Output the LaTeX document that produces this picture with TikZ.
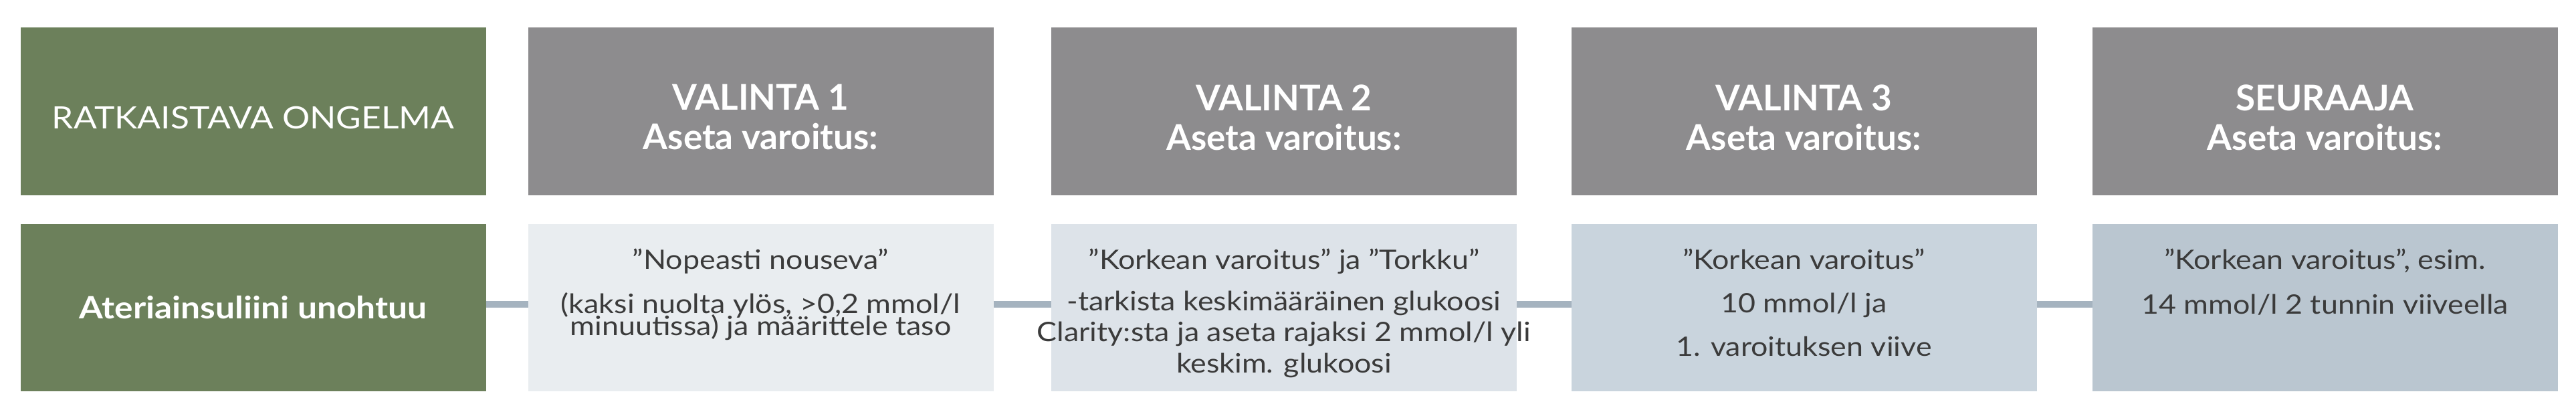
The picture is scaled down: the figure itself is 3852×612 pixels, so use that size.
\documentclass[tikz,border=0pt]{standalone}
\usepackage{fontspec}
\setmainfont{Lato}
\newfontfamily\widefont[FakeStretch=1.12]{Lato}
\usetikzlibrary{positioning}

\definecolor{problemGreen}{HTML}{6C805B}
\definecolor{headGray}{HTML}{8D8C8E}
\definecolor{optOne}{HTML}{E9EDF0}
\definecolor{optTwo}{HTML}{DDE3E9}
\definecolor{optThree}{HTML}{C9D4DD}
\definecolor{followFill}{HTML}{BAC6D0}
\definecolor{linkBlue}{HTML}{A5B3BF}
\definecolor{bodyGray}{HTML}{3B3B3B}

\lineskiplimit=-\maxdimen

\begin{document}
\begin{tikzpicture}[x=0.25pt, y=0.25pt,
	box/.style={rectangle, minimum width=174pt, minimum height=62.5pt, inner sep=0pt, outer sep=0pt},
	problemtext/.style={text=white, font={\widefont\fontsize{11.5}{13}\selectfont}, inner sep=0pt, anchor=base},
	headtext/.style={text=white, font={\bfseries\fontsize{13.25}{14.75}\selectfont}, align=center, inner sep=0pt},
	bodytext/.style={text=bodyGray, font={\widefont\fontsize{10}{#1}\selectfont}, align=center, inner sep=0pt},
	link/.style={draw=linkBlue, line width=2.5pt}]

		\useasboundingbox (0,0) rectangle (3852,612);

		% header row
		\node[box, fill=problemGreen](problemHead) at (378.5,445.5){};
		\node[box, fill=headGray](alt1Head) at (1137.5,445.5){};
		\node[box, fill=headGray](alt2Head) at (1920,445.5){};
		\node[box, fill=headGray](alt3Head) at (2697.5,445.5){};
		\node[box, fill=headGray](followHead) at (3476.5,445.5){};

		% content row
		\node[box, fill=problemGreen](problemBox) at (378.5,152){};
		\node[box, fill=optOne](alt1Box) at (1137.5,152){};
		\node[box, fill=optTwo](alt2Box) at (1920,152){};
		\node[box, fill=optThree](alt3Box) at (2697.5,152){};
		\node[box, fill=followFill](followBox) at (3476.5,152){};

		% header texts
		\node[problemtext](problemHeadText) at ([yshift=-37.75pt]problemHead.north){RATKAISTAVA ONGELMA};
		\node[headtext, below=21pt of alt1Head.north](alt1HeadText){VALINTA 1\\Aseta varoitus:};
		\node[headtext, below=21pt of alt2Head.north](alt2HeadText){VALINTA 2\\Aseta varoitus:};
		\node[headtext, below=21pt of alt3Head.north](alt3HeadText){VALINTA 3\\Aseta varoitus:};
		\node[headtext, below=21pt of followHead.north](followHeadText){SEURAAJA\\Aseta varoitus:};

		% content texts
		\node[problemtext, font={\widefont\bfseries\fontsize{11.5}{13}\selectfont}](problemText) at ([yshift=-35.25pt]problemBox.north){Ateriainsuliini unohtuu};
		\node[bodytext=8.4pt, below=9pt of alt1Box.north](alt1Text){”Nopeasti nouseva”\\[8.1pt](kaksi nuolta ylös, >0,2 mmol/l\\minuutissa) ja määrittele taso};
		\node[bodytext=11.6pt, below=9pt of alt2Box.north](alt2Text){”Korkean varoitus” ja ”Torkku”\\[3.9pt]-tarkista keskimääräinen glukoosi\\Clarity:sta ja aseta rajaksi 2 mmol/l yli\\keskim. glukoosi};
		\node[bodytext=16.25pt, below=9pt of alt3Box.north](alt3Text){”Korkean varoitus”\\10 mmol/l ja\\1. varoituksen viive};
		\node[bodytext=16.75pt, below=9pt of followBox.north](followText){”Korkean varoitus”, esim.\\14 mmol/l 2 tunnin viiveella};

		% draw links
		\draw[link] ([yshift=1.25pt]problemBox.east) -- ([yshift=1.25pt]alt1Box.west);
		\draw[link] ([yshift=1.25pt]alt1Box.east) -- ([yshift=1.25pt]alt2Box.west);
		\draw[link] ([yshift=1.25pt]alt2Box.east) -- ([yshift=1.25pt]alt3Box.west);
		\draw[link] ([yshift=1.25pt]alt3Box.east) -- ([yshift=1.25pt]followBox.west);

	\end{tikzpicture}
\end{document}
